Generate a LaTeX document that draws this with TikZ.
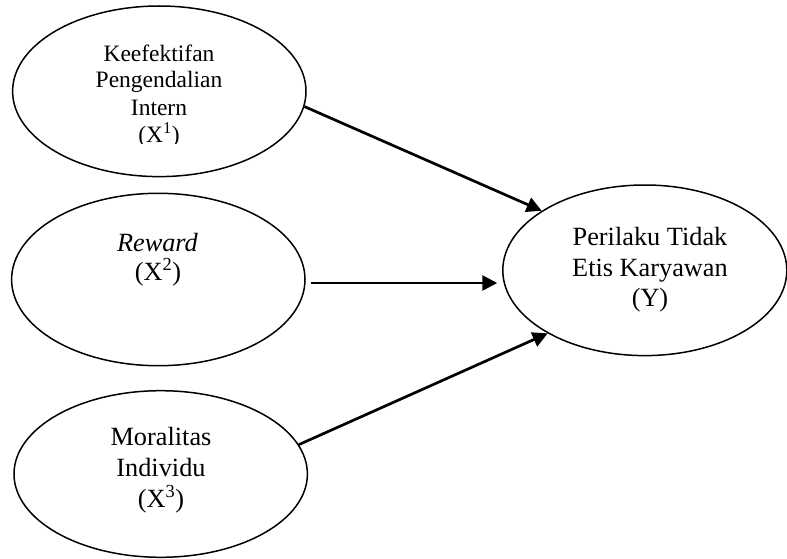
\documentclass[tikz,border=0pt]{standalone}
\usepackage{fontspec}
\setmainfont{Liberation Serif}
\usetikzlibrary{arrows.meta,shapes.geometric,calc}
\begin{document}
\begin{tikzpicture}[x=1pt,y=-1pt,
  ell/.style={draw, ellipse, line width=1.5pt, inner sep=0pt},
  arr/.style={line width=2.7pt, -{Triangle[length=15pt,width=15pt]}},
  smalltxt/.style={font=\fontsize{23.5}{27}\selectfont, anchor=base, inner sep=0pt},
  bigtxt/.style={font=\fontsize{26.3}{30}\selectfont, anchor=base, inner sep=0pt}]
\useasboundingbox (0,0) rectangle (787,559);
% ellipses
\node[ell, minimum width=293.4pt, minimum height=170.6pt] (e1) at (159.3,91.3) {};
\node[ell, minimum width=293.4pt, minimum height=172.4pt] (e2) at (158.3,279.5) {};
\node[ell, minimum width=293.4pt, minimum height=166.6pt] (e3) at (160.7,474) {};
\node[ell, minimum width=284pt, minimum height=170.6pt] (ey) at (644.8,270.3) {};
% texts
\node[smalltxt] (t1a) at (159,61.7) {Keefektifan};
\node[smalltxt] (t1b) at (159,88) {Pengendalian};
\node[smalltxt] (t1c) at (159,115.5) {Intern};
\begin{scope}
\clip (0,0) rectangle (787,144);
\node[smalltxt] (t1d) at (159,142.5) {(X\textsuperscript{1})};
\end{scope}
\node[bigtxt] (t2a) at (157.5,251.7) {\textit{Reward}};
\node[bigtxt] (t2b) at (158,280) {(X\textsuperscript{2})};
\node[bigtxt] (t3a) at (161,445) {Moralitas};
\node[bigtxt] (t3b) at (161,476.5) {Individu};
\node[bigtxt] (t3c) at (161,507) {(X\textsuperscript{3})};
\node[bigtxt] (tya) at (650,245) {Perilaku Tidak};
\node[bigtxt] (tyb) at (650,276) {Etis Karyawan};
\node[bigtxt] (tyc) at (650,306.5) {(Y)};
% arrows
\draw[arr] (e1.-6) -- (ey.150);
\draw[arr] ($(e2.east)+(5,3.5)$) -- ($(ey.west)+(-4.8,12.7)$);
\draw[arr] (e3.12) -- (ey.213);
\end{tikzpicture}
\end{document}
